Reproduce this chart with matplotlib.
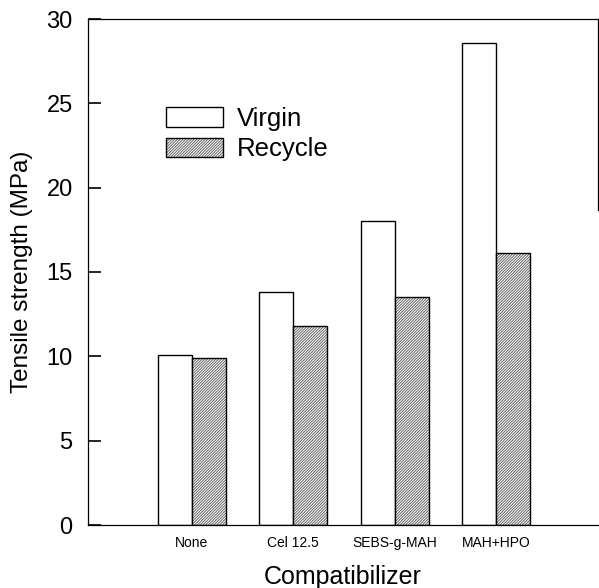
import matplotlib
matplotlib.use("Agg")
import matplotlib.pyplot as plt
import matplotlib.patches as mpatches
from matplotlib.legend_handler import HandlerTuple
import numpy as np

plt.rcParams['font.family'] = ['Liberation Sans', 'DejaVu Sans']
plt.rcParams['hatch.linewidth'] = 0.7
plt.rcParams['ytick.direction'] = 'in'
plt.rcParams['ytick.major.size'] = 9
plt.rcParams['ytick.major.width'] = 1.2
plt.rcParams['ytick.left'] = True

# data
categories = ['None', 'Cel 12.5', 'SEBS-g-MAH', 'MAH+HPO']
virgin = [10.1, 13.8, 18.0, 28.6]
recycle = [9.9, 11.8, 13.5, 16.1]

hatch_col = '#666666'
hatch = '/' * 12
x = np.arange(len(categories))
w = 0.335

fig = plt.figure(figsize=(5.99, 5.88), dpi=100)
ax = fig.add_axes([88/599, 1-525/588, 510/599, 506/588])

ax.bar(x - w/2, virgin, w, facecolor='white', edgecolor='black', linewidth=1.0)
# hatched bars: hatch layer first, then black outline on top
ax.bar(x + w/2, recycle, w, facecolor='white', edgecolor=hatch_col, hatch=hatch, linewidth=0)
ax.bar(x + w/2, recycle, w, facecolor='none', edgecolor='black', linewidth=1.0)

ax.set_xlim(-1.025, 4.005)
ax.set_ylim(0, 30)
ax.set_yticks([0, 5, 10, 15, 20, 25, 30])
ax.tick_params(axis='y', labelsize=17, pad=11)
ax.set_xticks(x)
ax.set_xticklabels(categories, fontsize=10)
ax.tick_params(axis='x', length=0, pad=8)

for s in ['left', 'bottom', 'top', 'right']:
    ax.spines[s].set_linewidth(0.9)
ax.spines['right'].set_bounds(18.7, 30)

ax.set_ylabel('Tensile strength (MPa)', fontsize=17.5, labelpad=10)
ax.set_xlabel('Compatibilizer', fontsize=18, labelpad=11)

h_virgin = mpatches.Patch(facecolor='white', edgecolor='black', linewidth=1.0)
h_rec = (mpatches.Patch(facecolor='white', edgecolor=hatch_col, hatch=hatch, linewidth=0),
         mpatches.Patch(facecolor='none', edgecolor='black', linewidth=1.0))
ax.legend([h_virgin, h_rec], ['Virgin', 'Recycle'], handler_map={tuple: HandlerTuple(ndivide=1)},
          frameon=False, fontsize=18.5, loc='upper left',
          bbox_to_anchor=(166/599, 1-107/588), bbox_transform=fig.transFigure,
          borderpad=0, borderaxespad=0, handlelength=2.22, handleheight=0.78,
          labelspacing=0.25, handletextpad=0.55)

fig.savefig('out.png', dpi=100)
